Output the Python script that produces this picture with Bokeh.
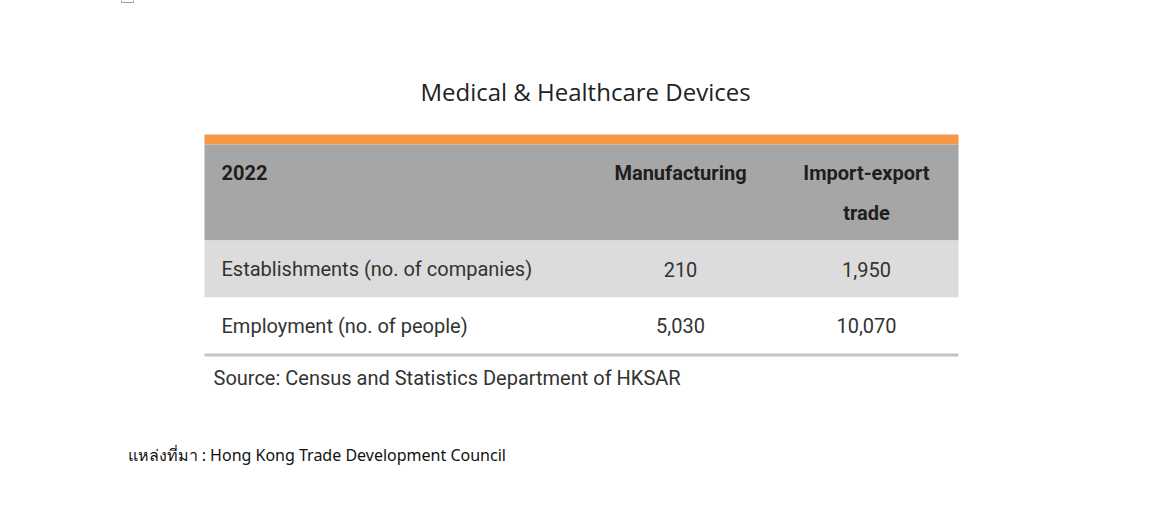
from bokeh.plotting import figure
from bokeh.models import Range1d
from bokeh.core.properties import value
from bokeh.embed import file_html
from bokeh.resources import INLINE

# ---- data ----
title_text = "Medical & Healthcare Devices"
year_label = "2022"
columns = ["Manufacturing", "Import-export\ntrade"]
row_labels = ["Establishments (no. of companies)", "Employment (no. of people)"]
manufacturing = [210, 5030]
import_export = [1950, 10070]
table_source = "Source: Census and Statistics Department of HKSAR"
page_source = "แหล่งที่มา : Hong Kong Trade Development Council"

W, H = 1160, 498
p = figure(width=W, height=H, output_backend="svg", toolbar_location=None,
           x_range=Range1d(0, W), y_range=Range1d(H, 0),
           min_border=0)
p.axis.visible = False
p.grid.visible = False
p.outline_line_color = None
p.background_fill_color = "white"
p.border_fill_color = "white"

TF = value("Roboto")
FS = "20px"
left, right = 204, 958
col_x = [680, 866]

# small image placeholder at the top edge
p.quad(left=[121], right=[133], top=[-10], bottom=[2], fill_color=None,
       line_color="#a0a0a0", line_width=1)

# title
p.text(x=[585], y=[91], text=[title_text], text_font=value("Open Sans"),
       text_font_size="24px", text_align="center", text_baseline="middle",
       text_color="#222222")

# orange band and header
p.quad(left=[left], right=[right], top=[134], bottom=[144], fill_color="#f79646", line_color=None)
p.quad(left=[left], right=[right], top=[144], bottom=[240], fill_color="#a6a6a6", line_color=None)
# rows
row_tops = [240, 297]
row_bots = [297, 353]
row_fill = ["#dcdcdc", "#ffffff"]
p.quad(left=[left] * 2, right=[right] * 2, top=row_tops, bottom=row_bots,
       fill_color=row_fill, line_color=None)
p.quad(left=[left], right=[right], top=[353], bottom=[356], fill_color="#c4c4c4", line_color=None)

# header text
hx, hy, ht = [221], [172], [year_label]
for cxp, lbl in zip(col_x, columns):
    for i, line in enumerate(lbl.split("\n")):
        hx.append(cxp)
        hy.append(172 + 40 * i)
        ht.append(line)
p.text(x=hx[:1], y=hy[:1], text=ht[:1], text_font=TF, text_font_style="bold",
       text_font_size=FS, text_align="left", text_baseline="middle", text_color="#1e1e1e")
p.text(x=hx[1:], y=hy[1:], text=ht[1:], text_font=TF, text_font_style="bold",
       text_font_size=FS, text_align="center", text_baseline="middle", text_color="#1e1e1e")

# body
ys = [(a + b) / 2 for a, b in zip(row_tops, row_bots)]
p.text(x=[221] * 2, y=ys, text=row_labels, text_font=TF, text_font_size=FS,
       text_align="left", text_baseline="middle", text_color="#333333")
p.text(x=[col_x[0]] * 2, y=ys, text=[f"{v:,}" for v in manufacturing], text_font=TF,
       text_font_size=FS, text_align="center", text_baseline="middle", text_color="#333333")
p.text(x=[col_x[1]] * 2, y=ys, text=[f"{v:,}" for v in import_export], text_font=TF,
       text_font_size=FS, text_align="center", text_baseline="middle", text_color="#333333")

p.text(x=[213], y=[377], text=[table_source], text_font=TF, text_font_size=FS,
       text_align="left", text_baseline="middle", text_color="#333333")

p.text(x=[127], y=[454], text=[page_source], text_font=value("Noto Sans"),
       text_font_size="16px", text_align="left", text_baseline="middle", text_color="#111111")

open("out.html", "w").write(file_html(p, INLINE))
